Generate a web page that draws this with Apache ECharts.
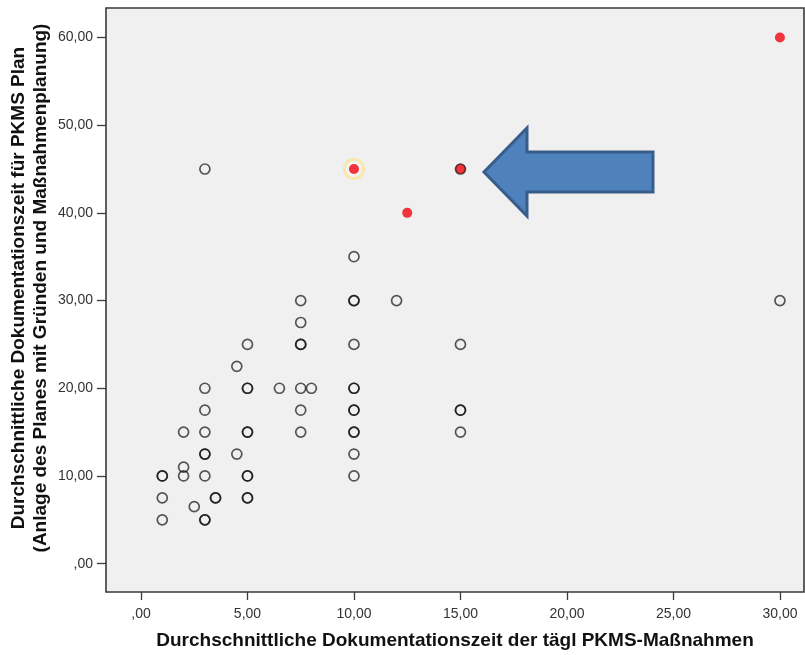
<!DOCTYPE html>
<html>
<head>
<meta charset="utf-8">
<script src="https://cdn.jsdelivr.net/npm/echarts@6/dist/echarts.min.js"></script>
<style>
  html, body { margin: 0; padding: 0; background: #fff; }
  #chart { width: 805px; height: 655px; }
</style>
</head>
<body>
<div id="chart"></div>
<script>
// each pair is one case; repeated pairs are cases lying on top of each other
const caseX = [1, 1, 1, 1, 2, 2, 2, 2.5, 3, 3, 3, 3, 3, 3, 3, 3, 3, 3.5, 3.5, 4.5, 4.5,
  5, 5, 5, 5, 5, 5, 5, 5, 5, 6.5, 7.5, 7.5, 7.5, 7.5, 7.5, 7.5, 7.5, 8,
  10, 10, 10, 10, 10, 10, 10, 10, 10, 10, 10, 10, 12, 15, 15, 15, 15, 15, 30];
const caseY = [10, 10, 7.5, 5, 15, 11, 10, 6.5, 45, 20, 17.5, 15, 12.5, 12.5, 10, 5, 5, 7.5, 7.5, 22.5, 12.5,
  25, 20, 20, 15, 15, 10, 10, 7.5, 7.5, 20, 30, 27.5, 25, 25, 20, 17.5, 15, 20,
  35, 30, 30, 25, 20, 20, 17.5, 17.5, 15, 15, 12.5, 10, 30, 45, 25, 17.5, 17.5, 15, 30];

// marked cases (red)
const markedX = [10, 12.5, 15, 30];
const markedY = [45, 40, 45, 60];

// selected case (yellow ring)
const selectedX = [10];
const selectedY = [45];

const xTicks = [0, 5, 10, 15, 20, 25, 30];
const yTicks = [0, 10, 20, 30, 40, 50, 60];

const pairs = (xs, ys) => xs.map((x, i) => [x, ys[i]]);
const fmt = v => v === 0 ? ',00' : v.toFixed(2).replace('.', ',');

const chart = echarts.init(document.getElementById('chart'));
chart.setOption({
  animation: false,
  grid: {
    left: 106, top: 8, right: 1, bottom: 63,
    outerBoundsMode: 'none',
    containLabel: false,
    show: true,
    backgroundColor: '#f0f0f0',
    borderColor: '#3a3a3a',
    borderWidth: 1.6
  },
  xAxis: {
    type: 'value',
    min: -1.643, max: 31.13,
    axisLine: { show: false, onZero: false },
    splitLine: { show: false },
    axisTick: { show: true, customValues: xTicks, length: 8, lineStyle: { color: '#3a3a3a', width: 1.3 } },
    axisLabel: { customValues: xTicks, formatter: fmt, color: '#333', fontSize: 14, fontFamily: 'Liberation Sans', margin: 15 },
    name: 'Durchschnittliche Dokumentationszeit der tägl PKMS-Maßnahmen',
    nameLocation: 'middle',
    nameGap: 39,
    nameMoveOverlap: false,
    nameTextStyle: { color: '#111', fontSize: 19, fontWeight: 'bold', fontFamily: 'Liberation Sans' }
  },
  yAxis: {
    type: 'value',
    min: -3.23, max: 63.36,
    axisLine: { show: false, onZero: false },
    splitLine: { show: false },
    axisTick: { show: true, customValues: yTicks, length: 9, lineStyle: { color: '#3a3a3a', width: 1.3 } },
    axisLabel: { customValues: yTicks, formatter: fmt, color: '#333', fontSize: 14, fontFamily: 'Liberation Sans', margin: 13 },
    name: 'Durchschnittliche Dokumentationszeit für PKMS Plan\n(Anlage des Planes mit Gründen und Maßnahmenplanung)',
    nameLocation: 'middle',
    nameRotate: 90,
    nameGap: 54,
    nameMoveOverlap: false,
    nameTextStyle: { color: '#111', fontSize: 19, fontWeight: 'bold', fontFamily: 'Liberation Sans', lineHeight: 22, padding: [0, 0, 0, 24] }
  },
  series: [
    {
      type: 'scatter',
      data: pairs(selectedX, selectedY),
      symbolSize: 19,
      itemStyle: { color: 'rgba(255,255,255,0.35)', borderColor: '#fde59a', borderWidth: 3 },
      z: 1
    },
    {
      type: 'scatter',
      data: pairs(markedX, markedY),
      symbolSize: 10,
      itemStyle: { color: '#f2333b', borderWidth: 0, opacity: 1 },
      z: 2
    },
    {
      type: 'scatter',
      data: pairs(caseX, caseY),
      symbolSize: 10,
      itemStyle: { color: 'rgba(0,0,0,0)', borderColor: 'rgba(10,10,10,0.68)', borderWidth: 1.7, opacity: 1 },
      z: 3
    }
  ],
  graphic: [
    {
      type: 'polygon',
      shape: { points: [[484, 172], [527, 128], [527, 152], [653, 152], [653, 192], [527, 192], [527, 216]] },
      style: { fill: '#4f81bd', stroke: '#385d8a', lineWidth: 3 },
      z: 10
    }
  ]
});
</script>
</body>
</html>
